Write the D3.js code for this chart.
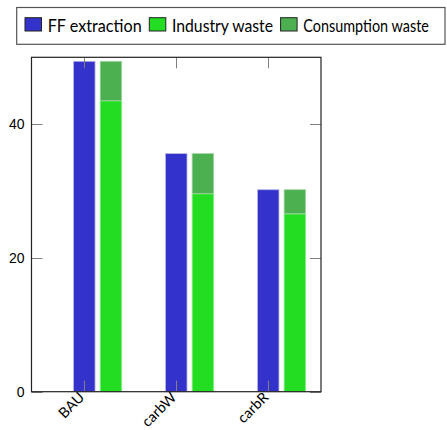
<!DOCTYPE html>
<html>
<head>
<meta charset="utf-8">
<script src="https://cdn.jsdelivr.net/npm/d3@7"></script>
<style>
  html, body { margin: 0; padding: 0; background: #fff; }
  svg { display: block; }
</style>
</head>
<body>
<svg id="chart" width="447" height="430"></svg>
<script>
// Scenarios and their material flows
const categories = ["BAU", "carbW", "carbR"];
const ffExtraction = [49.4, 35.6, 30.2];
const industryWaste = [43.5, 29.6, 26.6];
const consumptionWaste = [5.9, 6.0, 3.6];
const yTicks = [0, 20, 40];
const seriesNames = ["FF extraction", "Industry waste", "Consumption waste"];
const seriesColors = ["#3333cc", "#22dd22", "#4caf50"];
const edgeColors = ["#b8b8e6", "#8fee8f", "#a5d7a7"];

const svg = d3.select("#chart");
const plot = { left: 31.5, right: 321, top: 57.3, bottom: 391.7 };

const x = d3.scaleLinear().domain([-0.574, categories.length - 1 + 0.574])
  .range([plot.left, plot.right]);
const y = d3.scaleLinear().domain([0, 50]).range([plot.bottom, plot.top]);

const barW = 0.234;   // bar width in category units
const shift = 0.29;   // offset of the waste stack from the extraction bar

// Extraction bars, centred on the category
svg.append("g").selectAll("rect").data(ffExtraction).join("rect")
  .attr("x", (d, i) => x(i - barW / 2))
  .attr("width", (d, i) => x(i + barW / 2) - x(i - barW / 2))
  .attr("y", d => y(d))
  .attr("height", d => y(0) - y(d))
  .attr("fill", seriesColors[0])
  .attr("stroke", edgeColors[0]).attr("stroke-width", 0.8);

// Waste stack: industry at the bottom, consumption on top
const stack = categories.map((c, i) => [
  { lo: 0, hi: industryWaste[i], s: 1, i },
  { lo: industryWaste[i], hi: industryWaste[i] + consumptionWaste[i], s: 2, i }
]).flat();
svg.append("g").selectAll("rect").data(stack).join("rect")
  .attr("x", d => x(d.i + shift - barW / 2))
  .attr("width", d => x(d.i + shift + barW / 2) - x(d.i + shift - barW / 2))
  .attr("y", d => y(d.hi))
  .attr("height", d => y(d.lo) - y(d.hi))
  .attr("fill", d => seriesColors[d.s])
  .attr("stroke", d => edgeColors[d.s]).attr("stroke-width", 0.8);

// Inward ticks on all four sides
const tickLen = 11;
const tickG = svg.append("g").attr("stroke", "#808080").attr("stroke-width", 1);
yTicks.forEach(v => {
  const yy = Math.round(y(v)) + 0.5;
  tickG.append("line").attr("x1", plot.left).attr("x2", plot.left + tickLen).attr("y1", yy).attr("y2", yy);
  tickG.append("line").attr("x1", plot.right).attr("x2", plot.right - tickLen).attr("y1", yy).attr("y2", yy);
});
categories.forEach((c, i) => {
  const xx = Math.round(x(i)) + 0.5;
  tickG.append("line").attr("x1", xx).attr("x2", xx).attr("y1", plot.top).attr("y2", plot.top + tickLen);
  tickG.append("line").attr("x1", xx).attr("x2", xx).attr("y1", plot.bottom).attr("y2", plot.bottom - tickLen);
});

// Frame
svg.append("rect")
  .attr("x", plot.left).attr("y", plot.top)
  .attr("width", plot.right - plot.left).attr("height", plot.bottom - plot.top)
  .attr("fill", "none").attr("stroke", "#222").attr("stroke-width", 1.2);

// Y tick labels
const yAxis = d3.axisLeft(y).tickValues(yTicks).tickSize(0).tickPadding(7);
const ya = svg.append("g").attr("transform", `translate(${plot.left},0)`).call(yAxis);
ya.select(".domain").remove();
ya.selectAll("text").attr("font-family", "Liberation Sans, Arial, sans-serif")
  .attr("font-size", 14).attr("fill", "#000");

// X tick labels, rotated
const xa = svg.append("g");
categories.forEach((c, i) => {
  xa.append("text")
    .attr("transform", `translate(${x(i) - 2.5},${plot.bottom + 3}) rotate(-45)`)
    .attr("text-anchor", "end")
    .attr("dy", "0.35em")
    .attr("font-family", "Lato, sans-serif")
    .attr("font-size", 14.5)
    .text(c);
});

// Legend
const leg = svg.append("g");
const legFont = "Lato, sans-serif";
const legTextW = [94, 101, 125.6];
let lx = 25;
seriesNames.forEach((name, k) => {
  leg.append("rect").attr("x", lx).attr("y", 17.7).attr("width", 16.5).attr("height", 13.3)
    .attr("fill", seriesColors[k]).attr("stroke", "#222").attr("stroke-width", 1);
  leg.append("text").attr("x", lx + 22.7).attr("y", 32.3)
    .attr("font-family", legFont).attr("font-size", 16.5).attr("fill", "#000")
    .attr("textLength", legTextW[k]).attr("lengthAdjust", "spacingAndGlyphs")
    .text(name);
  lx += 22.7 + legTextW[k] + 7.6;
});
leg.insert("rect", ":first-child")
  .attr("x", 16.7).attr("y", 7.5).attr("width", 445 - 16.7).attr("height", 44.3 - 7.5)
  .attr("fill", "#fff").attr("stroke", "#555").attr("stroke-width", 1.2);
</script>
</body>
</html>
